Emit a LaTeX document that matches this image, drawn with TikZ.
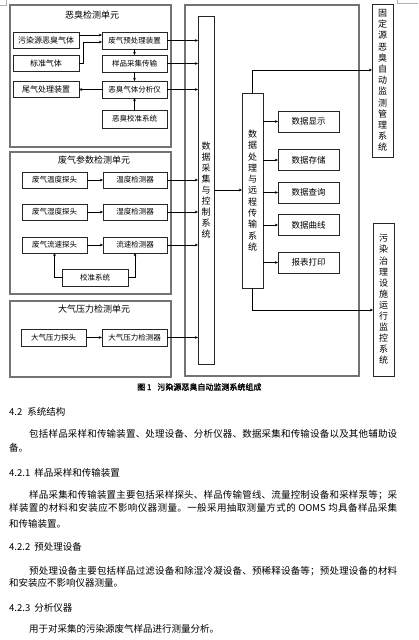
\documentclass[tikz,border=0pt]{standalone}
\usepackage{fontspec}
\setmainfont{Noto Sans CJK SC}
\newfontfamily\capfont[FakeBold=1.5]{Noto Sans CJK SC}
\usetikzlibrary{arrows.meta,calc}
\ExplSyntaxOn
\NewDocumentCommand\spreadline{mm}{\makebox[#1][s]{\tl_map_inline:nn {#2} {##1\hskip 0pt plus 1fil}\unskip}}
\ExplSyntaxOff
\begin{document}
\begin{tikzpicture}[x=1pt,y=-1pt,
  unitbox/.style={draw=black!55,line width=1.1pt,inner sep=0pt,outer sep=0pt},
  box/.style={draw=black!85,line width=0.9pt,inner sep=0pt,outer sep=0pt,align=center,font=\fontsize{7.5}{9}\selectfont},
  outbox/.style={box,minimum width=61,minimum height=21,font=\fontsize{8.5}{10}\selectfont},
  vbox/.style={draw=black!85,line width=0.9pt,inner sep=0pt,outer sep=0pt,align=center},
  ttl/.style={font=\fontsize{9}{11}\selectfont,inner sep=0pt},
  arr/.style={draw=black,line width=0.6pt,-{Stealth[length=3.2pt,width=2.8pt]}},
  body/.style={anchor=west,inner sep=0pt,font=\fontsize{9.5}{11}\selectfont}]
\useasboundingbox (0,0) rectangle (418,640);
\fill[white] (0,0) rectangle (418,640);
% crop marks
\draw[black!30,line width=0.5pt] (0,5) -- (6,5) -- (6,0);
\draw[black!30,line width=0.5pt] (397,0) -- (397,3) -- (418,3);
% unit 1
\node[unitbox,minimum width=161,minimum height=142] (u1) at (90.5,76) {};
\node[ttl] (t1) at (92,15) {恶臭检测单元};
\node[box,minimum width=66,minimum height=16,font=\fontsize{8}{9}\selectfont] (src) at (46,40) {污染源恶臭气体};
\node[box,minimum width=66,minimum height=16,font=\fontsize{8}{9}\selectfont] (std) at (46,63) {标准气体};
\node[box,minimum width=66,minimum height=16,font=\fontsize{8}{9}\selectfont] (tail) at (46,89) {尾气处理装置};
\node[box,minimum width=65,minimum height=17] (pre) at (134.5,40.5) {废气预处理装置};
\node[box,minimum width=65,minimum height=17] (samp) at (134.5,63.5) {样品采集传输};
\node[box,minimum width=65,minimum height=17] (ana) at (134.5,89.5) {恶臭气体分析仪};
\node[box,minimum width=65,minimum height=18] (cal1) at (134.5,119) {恶臭校准系统};
\draw[arr] ($(src.east)+(0,-5)$) coordinate (s1) -- (s1 -| pre.west);
\draw[arr] (std.east) -- ++(4,0) |- ($(pre.west)+(0,1.5)$);
\draw[arr] (pre.south) -- (samp.north);
\draw[arr] (samp.south) -- (ana.north);
\draw[arr] (cal1.north) -- (ana.south);
\draw[arr] (ana.west) -- (ana.west -| tail.east);
% unit 2
\node[unitbox,minimum width=161,minimum height=142] (u2) at (90.5,223) {};
\node[ttl] (t2) at (94,160) {废气参数检测单元};
\node[box,minimum width=65,minimum height=16] (tprobe) at (54.5,180) {废气温度探头};
\node[box,minimum width=64,minimum height=16] (tdet) at (135,180) {温度检测器};
\node[box,minimum width=65,minimum height=16] (hprobe) at (54.5,212) {废气湿度探头};
\node[box,minimum width=64,minimum height=16] (hdet) at (135,212) {湿度检测器};
\node[box,minimum width=65,minimum height=16] (fprobe) at (54.5,245) {废气流速探头};
\node[box,minimum width=64,minimum height=16] (fdet) at (135,245) {流速检测器};
\node[box,minimum width=66,minimum height=17] (cal2) at (95,277.5) {校准系统};
\draw[arr] (tprobe.east) -- (tdet.west);
\draw[arr] (hprobe.east) -- (hdet.west);
\draw[arr] (fprobe.east) -- (fdet.west);
\draw[arr] (cal2.west) -| (fprobe.south);
\draw[arr] (cal2.east) -| (fdet.south);
% unit 3
\node[unitbox,minimum width=161,minimum height=76] (u3) at (90.5,339) {};
\node[ttl] (t3) at (94,309) {大气压力检测单元};
\node[box,minimum width=65,minimum height=17] (pprobe) at (53.5,337.5) {大气压力探头};
\node[box,minimum width=65,minimum height=17] (pdet) at (134.5,337.5) {大气压力检测器};
\draw[arr] (pprobe.east) -- (pdet.west);
% middle
\node[unitbox,minimum width=174,minimum height=371] (mid) at (272,190.5) {};
\node[vbox,minimum width=16,minimum height=348,font=\fontsize{9}{11.1}\selectfont] (acq) at (206,190) {数\\据\\采\\集\\与\\控\\制\\系\\统};
\node[vbox,minimum width=21,minimum height=195,font=\fontsize{9}{11.3}\selectfont] (proc) at (252.5,190.5) {数\\据\\处\\理\\与\\远\\程\\传\\输\\系\\统};
\node[outbox] (disp) at (308.5,121.5) {数据显示};
\node[outbox] (store) at (308.5,160) {数据存储};
\node[outbox] (query) at (308.5,192.5) {数据查询};
\node[outbox] (curve) at (308.5,225) {数据曲线};
\node[outbox] (print) at (308.5,262.5) {报表打印};
\node[vbox,minimum width=21,minimum height=153,font=\fontsize{9}{11.2}\selectfont] (mgmt) at (382.5,80.5) {固\\定\\源\\恶\\臭\\自\\动\\监\\测\\管\\理\\系\\统};
\node[vbox,minimum width=21,minimum height=153,font=\fontsize{9}{11.1}\selectfont] (pol) at (383.5,299.5) {污\\染\\治\\理\\设\\施\\运\\行\\监\\控\\系\\统};
% connectors to acquisition
\draw[arr] (pre.east) -- (pre.east -| acq.west);
\draw[arr] (samp.east) -- (samp.east -| acq.west);
\draw[arr] (ana.east) -- (ana.east -| acq.west);
\draw[arr] (tdet.east) -- (tdet.east -| acq.west);
\draw[arr] (hdet.east) -- (hdet.east -| acq.west);
\draw[arr] (fdet.east) -- (fdet.east -| acq.west);
\draw[arr] (pdet.east) -- (pdet.east -| acq.west);
\draw[arr] (acq.east) -- (acq.east -| proc.west);
\draw[arr] (proc.east |- disp.west) -- (disp.west);
\draw[arr] (proc.east |- store.west) -- (store.west);
\draw[arr] (proc.east |- query.west) -- (query.west);
\draw[arr] (proc.east |- curve.west) -- (curve.west);
\draw[arr] (proc.east |- print.west) -- (print.west);
\draw[arr] (proc.north) |- ($(mgmt.west)+(0,-10.5)$);
\draw[arr] (proc.south) |- ($(pol.west)+(0,10.5)$);
% caption
\node[anchor=west,inner sep=0pt,font=\capfont\fontsize{8}{9}\selectfont] (cap) at (137,387) {图 1\hspace{6pt}污染源恶臭自动监测系统组成};
% body text
\node[body] (h1) at (9,412) {4.2\hspace{5pt}系统结构};
\node[body] (p1) at (29,434) {\spreadline{368pt}{包括样品采样和传输装置、处理设备、分析仪器、数据采集和传输设备以及其他辅助设}};
\node[body] (p2) at (9,448) {备。};
\node[body] (h2) at (9,473) {4.2.1\hspace{4pt}样品采样和传输装置};
\node[body] (p3) at (29,495) {\spreadline{368pt}{样品采集和传输装置主要包括采样探头、样品传输管线、流量控制设备和采样泵等；采}};
\node[body] (p4) at (9,508) {\spreadline{388pt}{样装置的材料和安装应不影响仪器测量。一般采用抽取测量方式的{\ OOMS\ }均具备样品采集}};
\node[body] (p5) at (9,524) {和传输装置。};
\node[body] (h3) at (9,547) {4.2.2\hspace{4pt}预处理设备};
\node[body] (p6) at (29,571) {\spreadline{368pt}{预处理设备主要包括样品过滤设备和除湿冷凝设备、预稀释设备等；预处理设备的材料}};
\node[body] (p7) at (9,583) {和安装应不影响仪器测量。};
\node[body] (h4) at (9,608) {4.2.3\hspace{4pt}分析仪器};
\node[body] (p8) at (29,629) {用于对采集的污染源废气样品进行测量分析。};
\end{tikzpicture}
\end{document}
